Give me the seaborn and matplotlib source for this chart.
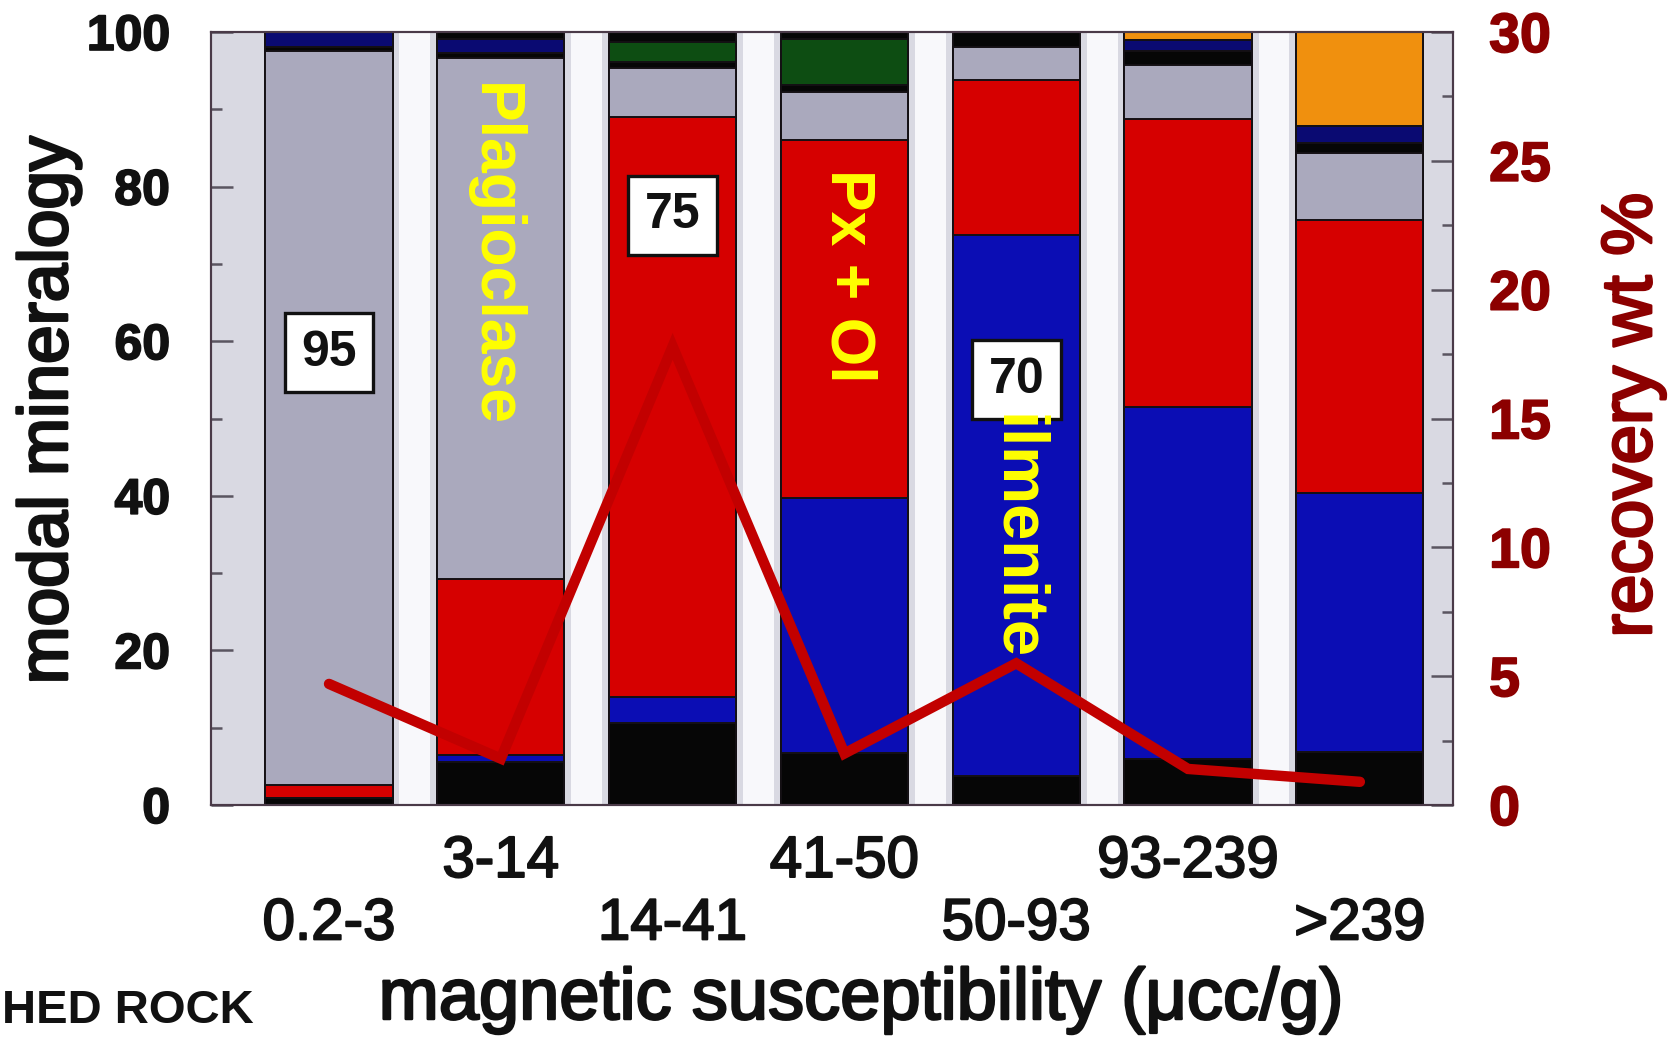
import numpy as np
import matplotlib
matplotlib.use("Agg")
import matplotlib.pyplot as plt
import matplotlib.patheffects as pe
import seaborn as sns

# magnetic susceptibility fractions (µcc/g)
fractions = ["0.2-3", "3-14", "14-41", "41-50", "50-93", "93-239", ">239"]

# modal mineralogy (%) of each fraction, listed from the bottom of the stack upward
opaque_low = [0.9, 5.6, 10.6, 6.7, 3.7, 6.0, 6.9]
ilmenite = [0.0, 0.9, 3.4, 33.0, 70.0, 45.5, 33.4]
px_ol = [1.7, 22.8, 75.0, 46.3, 20.1, 37.3, 35.4]
plagioclase = [95.0, 67.4, 6.3, 6.2, 4.3, 6.9, 8.6]
opaque_mid = [0.4, 0.6, 0.8, 0.9, 0.0, 1.8, 1.3]
navy_phase = [2.0, 1.8, 0.0, 0.0, 0.0, 1.5, 2.3]
green_phase = [0.0, 0.0, 2.6, 6.0, 0.0, 0.0, 0.0]
orange_phase = [0.0, 0.0, 0.0, 0.0, 0.0, 1.0, 12.1]
opaque_top = [0.0, 0.9, 1.3, 0.9, 1.9, 0.0, 0.0]

# recovery (wt %) of each fraction
recovery = [4.7, 1.8, 17.8, 2.0, 5.5, 1.4, 0.9]

layers = [opaque_low, ilmenite, px_ol, plagioclase, opaque_mid,
          navy_phase, green_phase, orange_phase, opaque_top]
layer_colors = ["#060606", "#0b0db4", "#d60000", "#aaa9bd", "#060606",
                "#0a0a72", "#0d4d12", "#f0900e", "#060606"]

sns.set_theme(style="white")
plt.rcParams["font.family"] = ["Liberation Sans", "DejaVu Sans"]


def heavy(color, w=1.6):
    return [pe.withStroke(linewidth=w, foreground=color)]


fig = plt.figure(figsize=(16.68, 10.39), dpi=100)
ax = fig.add_axes([0.1265, 0.2252, 0.7446, 0.7440])
ax.set_facecolor("#d9d9e2")

n = len(fractions)
x = np.arange(n)
bar_w = 0.74

# stacked columns: draw cumulative totals from the top layer down
stack = np.cumsum(np.array(layers, dtype=float), axis=0)
for k in range(len(layers) - 1, -1, -1):
    sns.barplot(x=fractions, y=stack[k], order=fractions, color=layer_colors[k],
                saturation=1, width=bar_w, edgecolor="#141014", linewidth=1.4,
                errorbar=None, ax=ax, zorder=2)

# pale separators between columns
for i in range(n - 1):
    ax.axvspan(i + bar_w / 2 + 0.04, i + 1 - bar_w / 2 - 0.04,
               color="#f8f8fb", lw=0, zorder=0.5)

ax.set_xlim(-0.687, n - 1 + 0.542)
ax.set_ylim(0, 100)
ax.set_yticks(range(0, 101, 20))
ax.set_yticks(range(10, 100, 20), minor=True)
ax.tick_params(axis="y", which="major", direction="in", length=16, width=1.8,
               color="#5a5560", labelsize=36, pad=29.5, left=True, labelcolor="#111111")
ax.tick_params(axis="y", which="minor", direction="in", length=8, width=1.8,
               color="#5a5560", left=True)
for lab in ax.get_yticklabels():
    lab.set_fontweight("bold")
    lab.set_path_effects(heavy("#111111", 1.2))

# two staggered rows of category labels
ax.set_xticks(x)
ax.set_xticklabels([lab if i % 2 else "\n" + lab for i, lab in enumerate(fractions)])
ax.tick_params(axis="x", length=0, pad=21.6, labelsize=42, labelcolor="#111111")
for lab in ax.get_xticklabels():
    lab.set_path_effects(heavy("#111111", 1.4))
ax.set_xlabel("")

ax.set_ylabel("modal mineralogy", fontsize=50, color="#111111",
              path_effects=heavy("#111111", 2.0))
ax.yaxis.set_label_coords(-0.1047, 0.511)

# boxed percentages
boxes = [(0, plagioclase[0], 58.5), (2, px_ol[2], 76.3), (4, ilmenite[4], 55.0)]
for i, val, ypos in boxes:
    ax.text(i, ypos, f"{val:.0f}", ha="center", va="center", fontsize=36,
            fontweight="bold", color="#111111", zorder=5,
            bbox=dict(boxstyle="square,pad=0.33", fc="white", ec="#111111", lw=2.4))

# mineral names
names = [("Plagioclase", 0.956, 71.1, 45), ("Px + Ol", 3.02, 68.4, 45),
         ("ilmenite", 4.0, 34.6, 47)]
for txt, xi, yi, fs in names:
    ax.text(xi, yi, txt, rotation=270, ha="center", va="center", fontsize=fs,
            fontweight="bold", color="#ffff00", zorder=5)

# recovery curve on the secondary axis
ax2 = ax.twinx()
sns.lineplot(x=x, y=recovery, ax=ax2, color="#c20000", linewidth=7.5,
             solid_capstyle="round", solid_joinstyle="miter", zorder=6)
ax2.set_ylim(0, 30)
ax2.set_yticks(range(0, 31, 5))
ax2.set_yticks(np.arange(2.5, 30, 5), minor=True)
ax2.tick_params(axis="y", which="major", direction="in", length=16, width=1.8,
                color="#5a5560", labelsize=40, pad=26, right=True,
                labelright=True, labelcolor="#8c0000")
ax2.tick_params(axis="y", which="minor", direction="in", length=8, width=1.8,
                color="#5a5560", right=True)
for lab in ax2.get_yticklabels():
    lab.set_fontweight("bold")
    lab.set_path_effects(heavy("#8c0000", 1.2))
ax2.set_ylabel("recovery wt %", fontsize=51, color="#8c0000",
               path_effects=heavy("#8c0000", 2.0))
ax2.yaxis.set_label_coords(1.1184, 0.5045)

for a in (ax, ax2):
    for sp in a.spines.values():
        sp.set_visible(True)
        sp.set_color("#4a3a48")
        sp.set_linewidth(1.5)

fig.text(0.5168, 1 - 1019 / 1039, "magnetic susceptibility (μcc/g)", ha="center",
         va="baseline", fontsize=52, color="#111111", path_effects=heavy("#111111", 1.8))
fig.text(0.001, 1 - 1023 / 1039, "HED ROCK", ha="left", va="baseline",
         fontsize=34, fontweight="bold", color="#111111")

fig.savefig("out.png", dpi=100)
